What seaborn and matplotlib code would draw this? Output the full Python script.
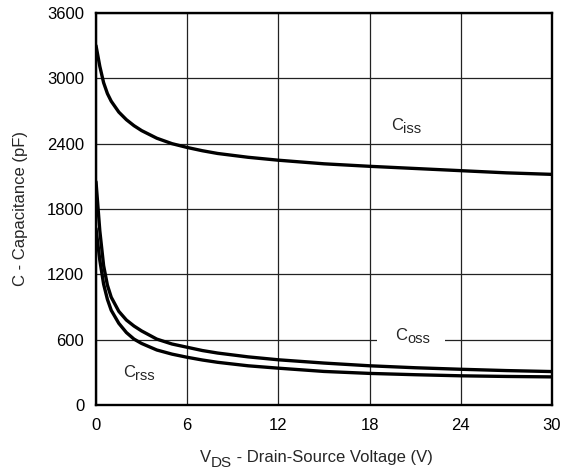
import matplotlib
matplotlib.use("Agg")
import matplotlib.pyplot as plt
import seaborn as sns
import pandas as pd

# drain-source voltage (V)
vds = [0, 0.25, 0.5, 0.75, 1, 1.5, 2, 2.5, 3, 4, 5, 6, 7, 8, 10, 12, 15, 18, 21, 24, 27, 30]
# capacitances (pF)
ciss = [3300, 3110, 2960, 2860, 2790, 2690, 2620, 2565, 2520, 2450, 2400, 2365, 2335, 2310,
        2275, 2248, 2215, 2192, 2172, 2152, 2132, 2118]
coss = [2050, 1600, 1280, 1100, 990, 860, 780, 725, 680, 605, 560, 530, 500, 477,
        442, 415, 385, 360, 342, 328, 316, 307]
crss = [1620, 1330, 1110, 970, 870, 750, 665, 605, 565, 505, 467, 438, 413, 392,
        360, 338, 308, 290, 278, 268, 262, 258]

xticks = [0, 6, 12, 18, 24, 30]
yticks = [0, 600, 1200, 1800, 2400, 3000, 3600]

sns.set_style("white")
plt.rcParams["font.family"] = ["Liberation Sans", "DejaVu Sans"]

df = pd.DataFrame({"vds": vds, "Ciss": ciss, "Coss": coss, "Crss": crss})

fig = plt.figure(figsize=(5.77, 4.73), dpi=100)
ax = fig.add_axes([0.1664, 0.1438, 0.7903, 0.8287])

for col in ["Ciss", "Coss", "Crss"]:
    sns.lineplot(data=df, x="vds", y=col, ax=ax, color="black", linewidth=2.4, zorder=3)

ax.set_xlim(0, 30)
ax.set_ylim(0, 3600)
ax.set_xticks(xticks)
ax.set_yticks(yticks)
ax.grid(True, color="#222222", linewidth=0.9)
ax.tick_params(length=0, labelsize=12, colors="black")
ax.tick_params(axis="y", pad=8.5)
ax.tick_params(axis="x", pad=9.5)
for s in ax.spines.values():
    s.set_linewidth(1.7)
    s.set_color("black")
    s.set_zorder(4)
ax.set_xlabel("")
ax.set_ylabel("C - Capacitance (pF)", fontsize=12)
ax.yaxis.set_label_coords(-0.149, 0.5)


def sub_text(x, y, main, sub, rest=None, transform=None, size=12, subsize=10.5, drop=0):
    t = ax.text(x, y, main, fontsize=size, va="baseline", ha="left",
                transform=transform or ax.transData, clip_on=False)
    s = ax.annotate(sub, xy=(1, 0), xycoords=t, xytext=(0, -drop),
                    textcoords="offset points", fontsize=subsize,
                    va="baseline", ha="left", annotation_clip=False)
    if rest:
        ax.annotate(rest, xy=(1, 0), xycoords=(s, t), fontsize=size,
                    va="bottom", ha="left", annotation_clip=False)


sub_text(0.228, -0.145, "V", "DS", " - Drain-Source Voltage (V)",
         transform=ax.transAxes, subsize=11, drop=1.8)
sub_text(19.39, 2525, "C", "iss")
sub_text(19.67, 597, "C", "oss")
sub_text(1.78, 257, "C", "rss")
# gap in the 600 gridline behind the Coss label
ax.hlines(600, 18.47, 22.96, color="white", linewidth=3, zorder=1)

fig.savefig("out.png", dpi=100)
